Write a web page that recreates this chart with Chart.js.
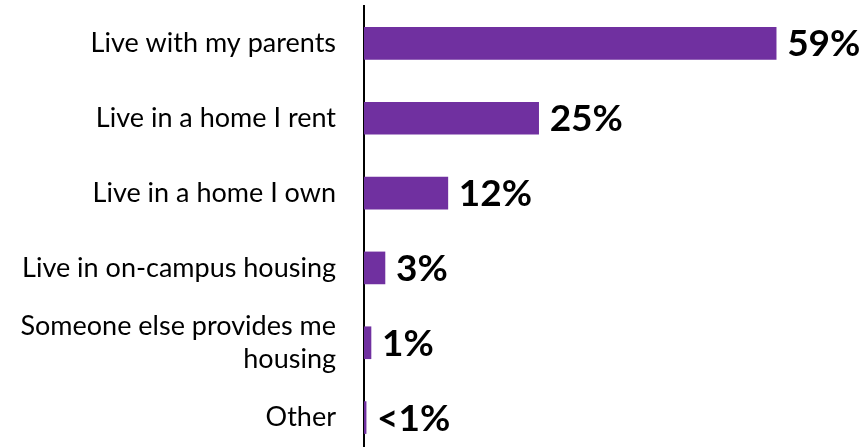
<!DOCTYPE html>
<html>
<head>
<meta charset="utf-8">
<script src="https://cdn.jsdelivr.net/npm/chart.js@4"></script>
<style>
  html, body { margin: 0; padding: 0; background: #fff; overflow: hidden; }
  #wrap { width: 863px; height: 460px; position: relative; }
</style>
</head>
<body>
<div id="wrap"><canvas id="housingChart"></canvas></div>
<script>
const categories = [
    'Live with my parents',
    'Live in a home I rent',
    'Live in a home I own',
    'Live in on-campus housing',
    ['Someone else provides me', 'housing'],
    'Other'
];
const values = [59, 25, 12, 3, 1, 0.3];
const valueLabels = ['59%', '25%', '12%', '3%', '1%', '<1%'];

// draw the percentage next to each bar end
const barLabels = {
    id: 'barLabels',
    afterDatasetsDraw(chart) {
        const ctx = chart.ctx;
        const meta = chart.getDatasetMeta(0);
        ctx.save();
        ctx.font = 'bold 37px Lato';
        ctx.fillStyle = '#000';
        ctx.textBaseline = 'middle';
        ctx.textAlign = 'left';
        meta.data.forEach(function (bar, i) {
            ctx.fillText(valueLabels[i], bar.x + 11, bar.y + 1);
        });
        ctx.restore();
    }
};

document.addEventListener('DOMContentLoaded', function () {
    const ctx = document.getElementById('housingChart').getContext('2d');
    new Chart(ctx, {
        type: 'bar',
        data: {
            labels: categories,
            datasets: [{
                data: values,
                backgroundColor: '#7030A0',
                barThickness: 32,
                categoryPercentage: 1
            }]
        },
        plugins: [barLabels],
        options: {
            indexAxis: 'y',
            responsive: true,
            maintainAspectRatio: false,
            animation: false,
            layout: { padding: { top: 6, bottom: 5, left: 0, right: 10 } },
            plugins: {
                legend: { display: false },
                tooltip: { enabled: false }
            },
            scales: {
                x: {
                    display: false,
                    min: 0,
                    max: 70
                },
                y: {
                    grid: { display: false, drawTicks: false },
                    border: { display: true, color: '#000', width: 2 },
                    ticks: {
                        color: '#000',
                        padding: 28,
                        font: { family: 'Lato', size: 27 }
                    },
                    afterFit: function (scale) {
                        scale.width = 364;
                        scale.paddingTop = 0;
                        scale.paddingBottom = 0;
                    }
                }
            }
        }
    });
});
</script>
</body>
</html>
